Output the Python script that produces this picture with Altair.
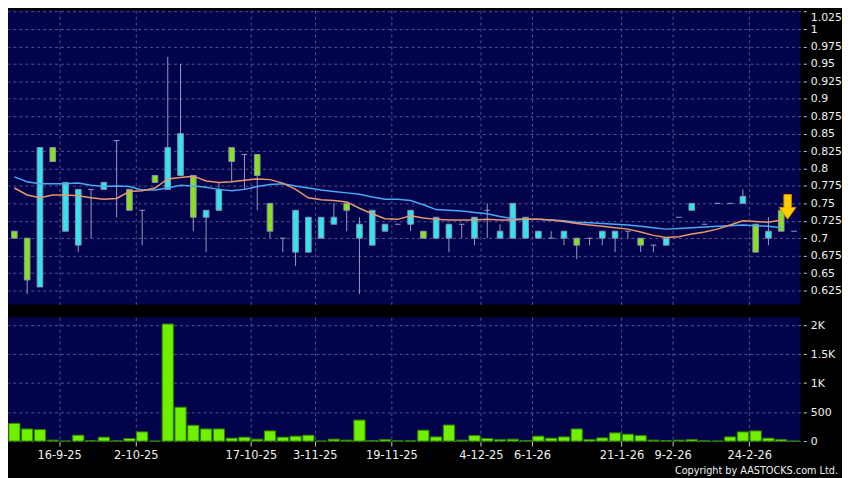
import altair as alt
import pandas as pd

# ---------------- data ----------------
opens = [0.71, 0.70, 0.63, 0.83, 0.71, 0.69, 0.77, 0.77, 0.84, 0.77,
         0.74, 0.79, 0.77, 0.79, 0.79, 0.73, 0.74, 0.83, 0.82, 0.82,
         0.75, 0.70, 0.68, 0.68, 0.70, 0.72, 0.75, 0.70, 0.69, 0.71,
         0.72, 0.72, 0.71, 0.70, 0.70, 0.72, 0.70, 0.74, 0.70, 0.70,
         0.70, 0.70, 0.70, 0.70, 0.70, 0.70, 0.70, 0.70, 0.71, 0.70,
         0.69, 0.69, 0.73, 0.74, 0.72, 0.75, 0.75, 0.75, 0.72, 0.70,
         0.74, 0.71]
highs = [0.71, 0.70, 0.83, 0.83, 0.78, 0.77, 0.77, 0.78, 0.84, 0.77,
         0.74, 0.79, 0.96, 0.95, 0.79, 0.74, 0.78, 0.83, 0.82, 0.82,
         0.75, 0.70, 0.74, 0.73, 0.73, 0.75, 0.75, 0.73, 0.74, 0.72,
         0.72, 0.74, 0.71, 0.73, 0.72, 0.72, 0.73, 0.75, 0.72, 0.75,
         0.73, 0.71, 0.71, 0.71, 0.70, 0.70, 0.71, 0.71, 0.71, 0.70,
         0.69, 0.70, 0.73, 0.75, 0.72, 0.75, 0.75, 0.77, 0.72, 0.73,
         0.74, 0.71]
lows = [0.70, 0.62, 0.63, 0.81, 0.71, 0.68, 0.70, 0.77, 0.73, 0.74,
        0.69, 0.78, 0.77, 0.79, 0.71, 0.68, 0.74, 0.78, 0.77, 0.74,
        0.70, 0.68, 0.66, 0.68, 0.70, 0.72, 0.71, 0.62, 0.69, 0.71,
        0.72, 0.71, 0.70, 0.70, 0.68, 0.70, 0.69, 0.70, 0.70, 0.70,
        0.70, 0.70, 0.70, 0.69, 0.67, 0.69, 0.69, 0.68, 0.70, 0.68,
        0.68, 0.69, 0.73, 0.74, 0.72, 0.75, 0.75, 0.75, 0.68, 0.69,
        0.71, 0.71]
closes = [0.70, 0.64, 0.83, 0.81, 0.78, 0.77, 0.77, 0.78, 0.84, 0.74,
          0.74, 0.78, 0.83, 0.85, 0.73, 0.74, 0.77, 0.81, 0.82, 0.79,
          0.71, 0.70, 0.74, 0.73, 0.73, 0.73, 0.74, 0.72, 0.74, 0.72,
          0.72, 0.74, 0.70, 0.73, 0.72, 0.72, 0.73, 0.74, 0.71, 0.75,
          0.73, 0.71, 0.70, 0.71, 0.69, 0.70, 0.71, 0.71, 0.71, 0.69,
          0.69, 0.70, 0.73, 0.75, 0.72, 0.75, 0.75, 0.76, 0.68, 0.71,
          0.71, 0.71]
volumes = [307, 210, 198, 17, 0, 102, 10, 68, 5, 45,
           159, 0, 2020, 585, 273, 210, 210, 51, 68, 34,
           176, 68, 85, 102, 0, 34, 17, 363, 10, 28,
           5, 5, 188, 73, 278, 17, 95, 45, 25, 34,
           10, 85, 51, 73, 210, 28, 56, 142, 119, 95,
           17, 10, 17, 28, 5, 0, 73, 159, 176, 51,
           28, 0]
ma_short = [0.772, 0.762, 0.758, 0.762, 0.762, 0.761, 0.758, 0.756, 0.757, 0.767,
            0.768, 0.772, 0.785, 0.787, 0.789, 0.782, 0.780, 0.781, 0.783, 0.785,
            0.784, 0.779, 0.770, 0.758, 0.755, 0.754, 0.752, 0.743, 0.735, 0.728,
            0.727, 0.732, 0.729, 0.727, 0.726, 0.726, 0.726, 0.727, 0.726, 0.726,
            0.727, 0.727, 0.726, 0.724, 0.721, 0.719, 0.717, 0.715, 0.713, 0.709,
            0.704, 0.701, 0.702, 0.706, 0.709, 0.713, 0.719, 0.725, 0.724, 0.723,
            0.726]
ma_long = [0.788, 0.781, 0.778, 0.778, 0.778, 0.779, 0.776, 0.774, 0.775, 0.774,
           0.769, 0.769, 0.772, 0.776, 0.775, 0.773, 0.770, 0.768, 0.770, 0.774,
           0.777, 0.778, 0.775, 0.772, 0.769, 0.767, 0.765, 0.763, 0.759, 0.756,
           0.756, 0.754, 0.748, 0.741, 0.740, 0.739, 0.737, 0.735, 0.731, 0.728,
           0.727, 0.727, 0.726, 0.725, 0.723, 0.722, 0.721, 0.720, 0.719, 0.717,
           0.715, 0.713, 0.714, 0.715, 0.716, 0.717, 0.718, 0.719, 0.718, 0.717,
           0.715]
date_tick_days = [4, 10, 19, 24, 30, 37, 41, 48, 52, 58]
date_tick_labels = ["16-9-25", "2-10-25", "17-10-25", "3-11-25", "19-11-25",
                    "4-12-25", "6-1-26", "21-1-26", "9-2-26", "24-2-26"]
price_ticks = [0.625, 0.65, 0.675, 0.7, 0.725, 0.75, 0.775, 0.8, 0.825, 0.85,
               0.875, 0.9, 0.925, 0.95, 0.975, 1.0, 1.025]
volume_ticks = [0, 500, 1000, 1500, 2000]
marker_day = [61]
marker_price = [0.745]
copyright_text = ["Copyright by AASTOCKS.com Ltd."]

# ---------------- styles ----------------
NAVY = "#03034b"
GRID = "#55558a"
WICK = "#9a9ac0"
CYAN = "#33e3f0"
GREEN = "#88e022"
BODY_STROKE = "#8595a8"
VOL_FILL = "#6ef000"
VOL_STROKE = "#2f7f00"
TXT = "#f0f0f0"
FONT = "DejaVu Sans"

n = len(opens)
df = pd.DataFrame({"day": list(range(n)), "open": opens, "high": highs,
                   "low": lows, "close": closes, "volume": volumes})
ma_df = pd.DataFrame({"day": list(range(len(ma_short))),
                      "ma_s": ma_short, "ma_l": ma_long})
mk_df = pd.DataFrame({"day": marker_day, "price": marker_price})

xscale = alt.Scale(domain=[0, n], nice=False, zero=False)
yscale = alt.Scale(domain=[0.605, 1.027], nice=False, zero=False)
vscale = alt.Scale(domain=[0, 2136], nice=False, zero=True)

label_expr = " : ".join(
    f"datum.value == {d} ? '{t}'" for d, t in zip(date_tick_days, date_tick_labels)
) + " : ''"

x_top_axis = alt.Axis(values=date_tick_days, tickCount=40, labels=False, ticks=False,
                      domain=False, grid=True, gridColor=GRID, gridDash=[3, 3],
                      gridWidth=1, title=None)
x_bot_axis = alt.Axis(values=date_tick_days, tickCount=40, labelExpr=label_expr,
                      labelOverlap=False, ticks=True, tickSize=5, tickColor="#cccccc",
                      domain=False, grid=True, gridColor=GRID, gridDash=[3, 3], gridWidth=1,
                      labelColor=TXT, labelFont=FONT, labelFontSize=11.5,
                      labelPadding=4, title=None)
y_price_axis = alt.Axis(orient="right", values=price_ticks, tickCount=40,
                        labelExpr="toString(datum.value)",
                        grid=True, gridColor=GRID, gridDash=[3, 3], gridWidth=1,
                        domain=False, ticks=True, tickSize=3, tickColor="#cccccc",
                        offset=3, labelPadding=4, labelColor=TXT, labelFont=FONT,
                        labelFontSize=11, labelFlush=3, labelOverlap=False,
                        labelSeparation=0, title=None)
y_vol_axis = alt.Axis(orient="right", values=volume_ticks, tickCount=40,
                      labelExpr="datum.value >= 1000 ? toString(datum.value / 1000) + 'K' : toString(datum.value)",
                      grid=True, gridColor=GRID, gridDash=[3, 3], gridWidth=1,
                      domain=False, ticks=True, tickSize=3, tickColor="#cccccc",
                      offset=3, labelPadding=4, labelColor=TXT, labelFont=FONT,
                      labelFontSize=11, labelOverlap=False, title=None)

base = alt.Chart(df).transform_calculate(
    mid="datum.day + 0.5",
    bl="datum.day + 0.28",
    br="datum.day + 0.72",
    dir="datum.close > datum.open ? 'up' : 'down'",
)

wicks = base.mark_rule(color=WICK, strokeWidth=1).encode(
    x=alt.X("mid:Q", scale=xscale, axis=x_top_axis),
    y=alt.Y("low:Q", scale=yscale, axis=y_price_axis),
    y2="high:Q",
)
dojis = base.transform_filter("datum.open == datum.close").mark_rule(
    color=WICK, strokeWidth=1).encode(
    x=alt.X("bl:Q", scale=xscale), x2="br:Q",
    y=alt.Y("open:Q", scale=yscale),
)
bodies = base.transform_filter("datum.open != datum.close").mark_bar(
    stroke=BODY_STROKE, strokeWidth=1).encode(
    x=alt.X("bl:Q", scale=xscale), x2="br:Q",
    y=alt.Y("open:Q", scale=yscale), y2="close:Q",
    color=alt.Color("dir:N", scale=alt.Scale(domain=["up", "down"], range=[CYAN, GREEN]),
                    legend=None),
)
ma_base = alt.Chart(ma_df).transform_calculate(mid="datum.day + 0.5")
line_long = ma_base.mark_line(color="#4aa8f5", strokeWidth=1.5).encode(
    x=alt.X("mid:Q", scale=xscale), y=alt.Y("ma_l:Q", scale=yscale))
line_short = ma_base.mark_line(color="#e8986a", strokeWidth=1.5).encode(
    x=alt.X("mid:Q", scale=xscale), y=alt.Y("ma_s:Q", scale=yscale))

ARROW = "M-0.3,-1 L0.3,-1 L0.3,0.05 L0.68,0.05 L0,1 L-0.68,0.05 L-0.3,0.05 Z"
marker = alt.Chart(mk_df).mark_point(
    shape=ARROW, filled=True, fill="#ffcc00", stroke="#e08a00", strokeWidth=1,
    size=620, opacity=1).encode(
    x=alt.X("day:Q", scale=xscale), y=alt.Y("price:Q", scale=yscale))

top = alt.layer(wicks, dojis, bodies, line_long, line_short, marker).properties(
    width=800, height=297)

vol_bars = alt.Chart(df).transform_calculate(
    vl="datum.day + 0.06", vr="datum.day + 0.94"
).mark_bar(fill=VOL_FILL, stroke=VOL_STROKE, strokeWidth=1).encode(
    x=alt.X("vl:Q", scale=xscale, axis=x_bot_axis), x2="vr:Q",
    y=alt.Y("volume:Q", scale=vscale, axis=y_vol_axis), y2=alt.datum(0),
)
copyright_mark = alt.Chart(pd.DataFrame({"t": copyright_text})).mark_text(
    align="right", baseline="bottom", color=TXT, font=FONT, fontSize=9.8
).encode(text="t:N", x=alt.value(838), y=alt.value(160))

bottom = alt.layer(vol_bars, copyright_mark).properties(width=800, height=125)

chart = alt.vconcat(top, bottom, spacing=13).properties(
    background="#000000", padding=0
).configure_view(fill=NAVY, stroke=None).configure_axis(labelOverlap=False)

chart.save("out.html", embed_options={"renderer": "svg", "actions": False})
